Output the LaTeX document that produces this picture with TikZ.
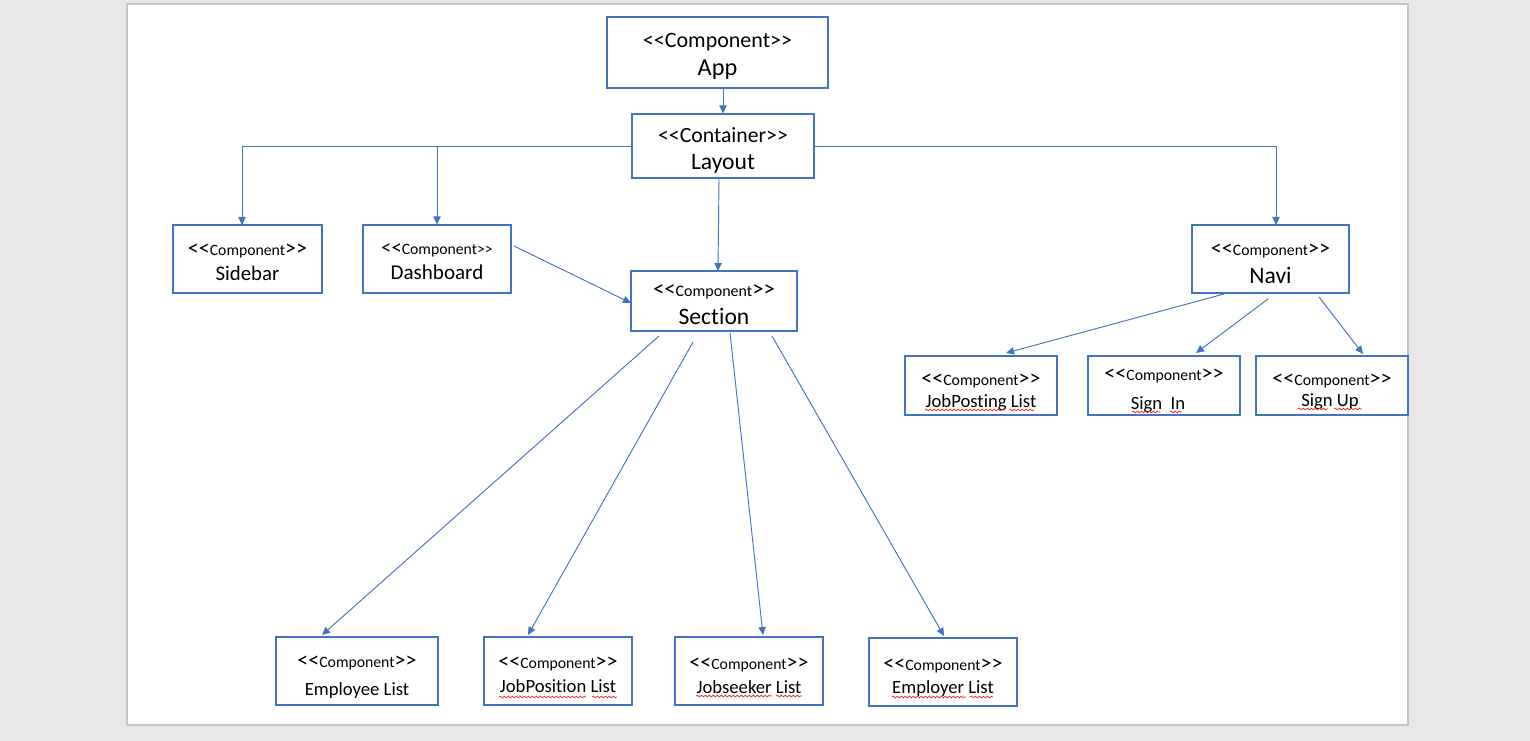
\documentclass[tikz,border=0pt]{standalone}
\usepackage{fontspec}
\setmainfont{Carlito}[Ligatures={TeXOff,NoCommon}]
\usetikzlibrary{arrows.meta,decorations.pathmorphing,fit}
\definecolor{office}{HTML}{4472C4}
\definecolor{bggray}{HTML}{E9E8E6}
\definecolor{pageedge}{HTML}{C4C4C4}
\definecolor{squigred}{HTML}{E03030}
\newcommand\fsz[1]{\fontsize{#1}{#1}\selectfont}
\newcommand\stA{{\fsz{16.5}<<Component>>}}
\newcommand\stB{{\fsz{16.5}<<}{\fsz{11.8}Component}{\fsz{16.5}>>}}
\newcommand\stC{{\fsz{15.5}<<}{\fsz{11.8}Component>>}}
\tikzset{
  box/.style={draw=office,line width=0.8pt,fill=white,inner sep=0pt},
  lbl/.style={anchor=base,inner sep=0pt,text=black,yshift=-2.2pt},
  conn/.style={draw=office,line width=0.7pt,-{Triangle[length=6pt,width=5.5pt]}},
  squig/.style={draw=squigred,line width=0.55pt,decorate,decoration={snake,amplitude=0.7pt,segment length=3pt}}
}
\begin{document}
\begin{tikzpicture}[x=0.75pt,y=-0.75pt]
\useasboundingbox (0,0) rectangle (1530,741);
\fill[bggray] (0,0) rectangle (1530,741);
\filldraw[fill=white,draw=pageedge,line width=0.9pt] (127,4) rectangle (1408,725);

% boxes
\node[box,fit={(607,17) (828,88)}] (app) {};
\node[box,fit={(632,114) (814,178)}] (layout) {};
\node[box,fit={(173,225) (322,293)}] (sidebar) {};
\node[box,fit={(363,225) (511,293)}] (dashboard) {};
\node[box,fit={(631,271) (797,331)}] (section) {};
\node[box,fit={(1192,225) (1349,293)}] (navi) {};
\node[box,fit={(905,356) (1057,415)}] (jobposting) {};
\node[box,fit={(1088,356) (1240,415)}] (signin) {};
\node[box,fit={(1256,356) (1408,415)}] (signup) {};
\node[box,fit={(276,637) (438,705)}] (employee) {};
\node[box,fit={(484,637) (632,705)}] (jobposition) {};
\node[box,fit={(675,637) (823,705)}] (jobseeker) {};
\node[box,fit={(869,638) (1017,706)}] (employer) {};

% texts
\node[lbl] (appS) at (717.5,45) {\stA};
\node[lbl] (appN) at (717.5,73) {\fsz{18.2}App};
\node[lbl] (layoutS) at (723,140) {\fsz{16.3}<<Container>>};
\node[lbl] (layoutN) at (723,167) {\fsz{17.7}Layout};
\node[lbl] (sidebarS) at (247.5,253) {\stB};
\node[lbl] (sidebarN) at (247.5,278) {\fsz{15.6}Sidebar};
\node[lbl] (dashboardS) at (437,252) {\stC};
\node[lbl] (dashboardN) at (437,277) {\fsz{15.8}Dashboard};
\node[lbl] (sectionS) at (714,294) {{\fsz{17}<<}{\fsz{12}Component}{\fsz{17}>>}};
\node[lbl] (sectionN) at (714,322) {\fsz{17.7}Section};
\node[lbl] (naviS) at (1270.5,253) {\stB};
\node[lbl] (naviN) at (1270.5,281) {\fsz{17.7}Navi};
\node[lbl] (jobpostingS) at (981,383) {\stB};
\node[lbl] (jobpostingN) at (981,405) {\fsz{14}JobPosting List};
\node[lbl] (signinS) at (1164,378) {\stB};
\node[lbl] (signinN) at (1158,407) {\fsz{14}Sign\ \ In};
\node[lbl] (signupS) at (1332,383) {\stB};
\node[lbl] (signupN) at (1330,404) {\fsz{14}Sign Up};
\node[lbl] (employeeS) at (357,665) {\stB};
\node[lbl] (employeeN) at (357,693) {\fsz{14}Employee List};
\node[lbl] (jobpositionS) at (558,666) {\stB};
\node[lbl] (jobpositionN) at (558,690) {\fsz{14}JobPosition List};
\node[lbl] (jobseekerS) at (749,667) {\stB};
\node[lbl] (jobseekerN) at (749,691) {\fsz{14}Jobseeker List};
\node[lbl] (employerS) at (943,668) {\stB};
\node[lbl] (employerN) at (943,691) {\fsz{14}Employer List};

% spell-check squiggles
\draw[squig] (925,410) -- (1005,410);
\draw[squig] (1009,410) -- (1034,410);
\draw[squig] (1132,412) -- (1160,412);
\draw[squig] (1170,412) -- (1182,412);
\draw[squig] (1298,409) -- (1328,409);
\draw[squig] (1334,409) -- (1362,409);
\draw[squig] (499,697) -- (586,697);
\draw[squig] (592,697) -- (617,697);
\draw[squig] (696,696) -- (772,696);
\draw[squig] (776,696) -- (802,696);
\draw[squig] (892,697) -- (966,697);
\draw[squig] (970,697) -- (993,697);

% connector coordinates
\coordinate (sbIn) at (242,225);
\coordinate (dbJ) at (layout.west -| dashboard.north);
\coordinate (naviIn) at (1276,225);
\coordinate (lsOut) at (719,178);
\coordinate (secIn) at (718,271);
\coordinate (dbOut) at (514,246);
\coordinate (secL) at (631,303);
\coordinate (s1) at (659,336);
\coordinate (s2) at (693,342);
\coordinate (s3) at (730,333);
\coordinate (s4) at (772,336);
\coordinate (e1) at (322,635);
\coordinate (e2) at (528,635);
\coordinate (e3) at (763,635);
\coordinate (e4) at (944,636);
\coordinate (n1) at (1224,294);
\coordinate (n2) at (1268,299);
\coordinate (n3) at (1319,297);
\coordinate (f1) at (1006,353);
\coordinate (f2) at (1196,353);
\coordinate (f3) at (1363,354);

% connectors
\draw[conn] (app.south -| layout.north) -- (layout.north);
\draw[conn] (layout.west) -| (sbIn);
\draw[conn] (dbJ) -- (dashboard.north);
\draw[conn] (layout.east) -| (naviIn);
\draw[conn] (lsOut) -- (secIn);
\draw[conn] (dbOut) -- (secL);
\draw[conn] (s1) -- (e1);
\draw[conn] (s2) -- (e2);
\draw[conn] (s3) -- (e3);
\draw[conn] (s4) -- (e4);
\draw[conn] (n1) -- (f1);
\draw[conn] (n2) -- (f2);
\draw[conn] (n3) -- (f3);
\end{tikzpicture}
\end{document}
